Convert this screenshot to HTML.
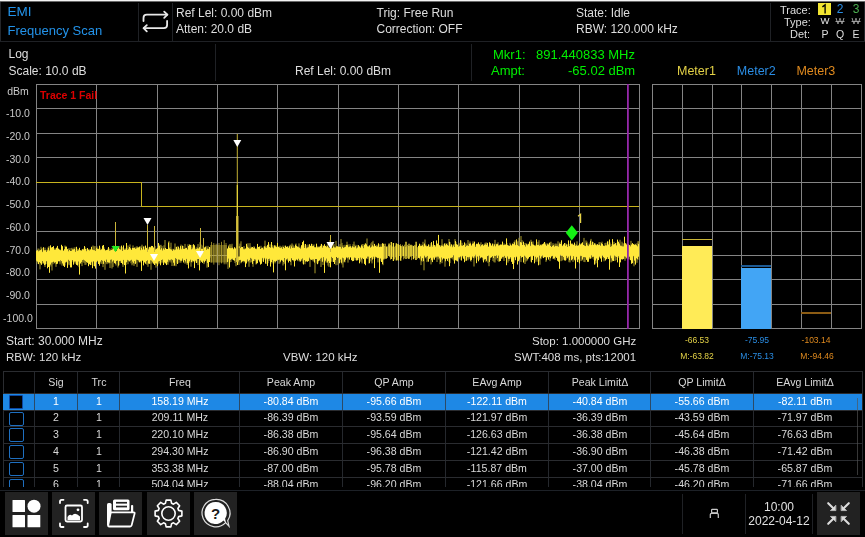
<!DOCTYPE html>
<html><head><meta charset="utf-8"><title>EMI Frequency Scan</title><style>
*{margin:0;padding:0;box-sizing:border-box}
html,body{width:865px;height:537px;background:#000;overflow:hidden}
body{position:relative;font-family:"Liberation Sans",sans-serif;color:#dcdcdc}
.t{position:absolute;white-space:nowrap;line-height:1;will-change:transform}
.r{position:absolute}
</style></head>
<body>
<div class="r" style="left:0px;top:0px;width:865px;height:1px;background:#f4f4f4;"></div>
<div class="r" style="left:0px;top:1px;width:865px;height:1px;background:#6a6a6a;"></div>
<div class="r" style="left:0px;top:2px;width:1px;height:40px;background:#24262a;"></div>
<div class="r" style="left:864px;top:2px;width:1px;height:40px;background:#24262a;"></div>
<div class="r" style="left:0px;top:41px;width:865px;height:1px;background:#1f2125;"></div>
<div class="r" style="left:138px;top:3px;width:1px;height:38px;background:#1f2125;"></div>
<div class="r" style="left:172px;top:3px;width:1px;height:38px;background:#1f2125;"></div>
<div class="r" style="left:770px;top:3px;width:1px;height:38px;background:#1f2125;"></div>
<div class="r" style="left:215px;top:44px;width:1px;height:37px;background:#1f2125;"></div>
<div class="r" style="left:471px;top:44px;width:1px;height:37px;background:#1f2125;"></div>
<div class="t" style="left:0;padding-left:7.5px;top:5px;font-size:13.5px;color:#2393ea;">EMI</div>
<div class="t" style="left:0;padding-left:7.5px;top:24px;font-size:13px;color:#2393ea;">Frequency Scan</div>
<div class="t" style="left:0;padding-left:176px;top:7px;font-size:12px;color:#dedede;">Ref Lel: 0.00 dBm</div>
<div class="t" style="left:0;padding-left:176px;top:23px;font-size:12px;color:#dedede;">Atten: 20.0 dB</div>
<div class="t" style="left:0;padding-left:376.5px;top:7px;font-size:12px;color:#dedede;">Trig: Free Run</div>
<div class="t" style="left:0;padding-left:376.5px;top:23px;font-size:12px;color:#dedede;">Correction: OFF</div>
<div class="t" style="left:0;padding-left:576px;top:7px;font-size:12px;color:#dedede;">State: Idle</div>
<div class="t" style="left:0;padding-left:576px;top:23px;font-size:12px;color:#dedede;">RBW: 120.000 kHz</div>
<div class="t" style="right:0;padding-right:54.5px;top:5px;font-size:11px;color:#dedede;">Trace:</div>
<div class="t" style="right:0;padding-right:54.5px;top:17px;font-size:11px;color:#dedede;">Type:</div>
<div class="t" style="right:0;padding-right:54.5px;top:29px;font-size:11px;color:#dedede;">Det:</div>
<div class="r" style="left:818px;top:3px;width:13px;height:12px;background:#f2e531;"></div>
<svg class="r" style="left:0;top:0" width="865" height="20" viewBox="0 0 865 20"><path d="M822.4 6.9L825.1 4.9V13.4" fill="none" stroke="#000" stroke-width="1.35"/></svg>
<div class="t" style="left:740px;width:200px;text-align:center;top:3px;font-size:12px;color:#2a8de4;">2</div>
<div class="t" style="left:755.5px;width:200px;text-align:center;top:3px;font-size:12px;color:#4caf50;">3</div>
<div class="t" style="left:724.6px;width:200px;text-align:center;top:16px;font-size:9.5px;color:#e8e8e8;">W</div>
<div class="t" style="left:740px;width:200px;text-align:center;top:16px;font-size:9.5px;color:#a0a0a0;text-decoration:line-through">W</div>
<div class="t" style="left:755.6px;width:200px;text-align:center;top:16px;font-size:9.5px;color:#a0a0a0;text-decoration:line-through">W</div>
<div class="t" style="left:724.8px;width:200px;text-align:center;top:28.5px;font-size:10.5px;color:#dedede;">P</div>
<div class="t" style="left:740px;width:200px;text-align:center;top:28.5px;font-size:10.5px;color:#dedede;">Q</div>
<div class="t" style="left:755.5px;width:200px;text-align:center;top:28.5px;font-size:10.5px;color:#dedede;">E</div>
<svg class="r" style="left:0;top:0" width="180" height="40" viewBox="0 0 180 40">
<g fill="none" stroke="#e8e8e8" stroke-width="1.8" stroke-linecap="round" stroke-linejoin="round">
<path d="M143.5 21V18Q143.5 14.7 146.8 14.7H167.3"/><path d="M164.2 11.6L167.4 14.7L164.2 17.8"/>
<path d="M167.1 21V25Q167.1 28.2 163.8 28.2H143.7"/><path d="M146.8 25.1L143.6 28.2L146.8 31.3"/>
</g></svg>
<div class="t" style="left:0;padding-left:8.5px;top:48px;font-size:12px;color:#dedede;">Log</div>
<div class="t" style="left:0;padding-left:8.5px;top:64.5px;font-size:12px;color:#dedede;">Scale: 10.0 dB</div>
<div class="t" style="left:0;padding-left:295px;top:65px;font-size:12px;color:#dedede;">Ref Lel: 0.00 dBm</div>
<div class="t" style="left:0;padding-left:493px;top:48px;font-size:13px;color:#00f000;">Mkr1:</div>
<div class="t" style="right:0;padding-right:230px;top:48px;font-size:13px;color:#00f000;">891.440833 MHz</div>
<div class="t" style="left:0;padding-left:491px;top:64px;font-size:13px;color:#00f000;">Ampt:</div>
<div class="t" style="right:0;padding-right:230px;top:64px;font-size:13px;color:#00f000;">-65.02 dBm</div>
<div class="t" style="left:0;padding-left:677px;top:65px;font-size:12.5px;color:#e3d146;">Meter1</div>
<div class="t" style="left:0;padding-left:736.8px;top:65px;font-size:12.5px;color:#2a8de4;">Meter2</div>
<div class="t" style="left:0;padding-left:796.4px;top:65px;font-size:12.5px;color:#e08a1e;">Meter3</div>
<svg class="r" style="left:0;top:0" width="865" height="537" viewBox="0 0 865 537" shape-rendering="crispEdges">
<rect x="36" y="84" width="1" height="245" fill="#848484"/>
<rect x="96" y="84" width="1" height="245" fill="#848484"/>
<rect x="157" y="84" width="1" height="245" fill="#848484"/>
<rect x="217" y="84" width="1" height="245" fill="#848484"/>
<rect x="277" y="84" width="1" height="245" fill="#848484"/>
<rect x="338" y="84" width="1" height="245" fill="#848484"/>
<rect x="398" y="84" width="1" height="245" fill="#848484"/>
<rect x="458" y="84" width="1" height="245" fill="#848484"/>
<rect x="519" y="84" width="1" height="245" fill="#848484"/>
<rect x="579" y="84" width="1" height="245" fill="#848484"/>
<rect x="639" y="84" width="1" height="245" fill="#848484"/>
<rect x="36" y="84" width="604" height="1" fill="#848484"/>
<rect x="36" y="108" width="604" height="1" fill="#848484"/>
<rect x="36" y="133" width="604" height="1" fill="#848484"/>
<rect x="36" y="157" width="604" height="1" fill="#848484"/>
<rect x="36" y="182" width="604" height="1" fill="#848484"/>
<rect x="36" y="206" width="604" height="1" fill="#848484"/>
<rect x="36" y="231" width="604" height="1" fill="#848484"/>
<rect x="36" y="255" width="604" height="1" fill="#848484"/>
<rect x="36" y="279" width="604" height="1" fill="#848484"/>
<rect x="36" y="304" width="604" height="1" fill="#848484"/>
<rect x="36" y="328" width="604" height="1" fill="#848484"/>
<rect x="652" y="84" width="1" height="245" fill="#848484"/>
<rect x="682" y="84" width="1" height="245" fill="#848484"/>
<rect x="712" y="84" width="1" height="245" fill="#848484"/>
<rect x="741" y="84" width="1" height="245" fill="#848484"/>
<rect x="771" y="84" width="1" height="245" fill="#848484"/>
<rect x="801" y="84" width="1" height="245" fill="#848484"/>
<rect x="831" y="84" width="1" height="245" fill="#848484"/>
<rect x="861" y="84" width="1" height="245" fill="#848484"/>
<rect x="652" y="84" width="210" height="1" fill="#848484"/>
<rect x="652" y="108" width="210" height="1" fill="#848484"/>
<rect x="652" y="133" width="210" height="1" fill="#848484"/>
<rect x="652" y="157" width="210" height="1" fill="#848484"/>
<rect x="652" y="182" width="210" height="1" fill="#848484"/>
<rect x="652" y="206" width="210" height="1" fill="#848484"/>
<rect x="652" y="231" width="210" height="1" fill="#848484"/>
<rect x="652" y="255" width="210" height="1" fill="#848484"/>
<rect x="652" y="279" width="210" height="1" fill="#848484"/>
<rect x="652" y="304" width="210" height="1" fill="#848484"/>
<rect x="652" y="328" width="210" height="1" fill="#848484"/>
</svg>
<div class="t" style="left:-82px;width:200px;text-align:center;top:85.5px;font-size:10.5px;color:#c8c8c8;">dBm</div>
<div class="t" style="left:-82px;width:200px;text-align:center;top:108px;font-size:10.5px;color:#c8c8c8;">-10.0</div>
<div class="t" style="left:-82px;width:200px;text-align:center;top:131px;font-size:10.5px;color:#c8c8c8;">-20.0</div>
<div class="t" style="left:-82px;width:200px;text-align:center;top:154px;font-size:10.5px;color:#c8c8c8;">-30.0</div>
<div class="t" style="left:-82px;width:200px;text-align:center;top:176px;font-size:10.5px;color:#c8c8c8;">-40.0</div>
<div class="t" style="left:-82px;width:200px;text-align:center;top:199px;font-size:10.5px;color:#c8c8c8;">-50.0</div>
<div class="t" style="left:-82px;width:200px;text-align:center;top:222px;font-size:10.5px;color:#c8c8c8;">-60.0</div>
<div class="t" style="left:-82px;width:200px;text-align:center;top:245px;font-size:10.5px;color:#c8c8c8;">-70.0</div>
<div class="t" style="left:-82px;width:200px;text-align:center;top:267px;font-size:10.5px;color:#c8c8c8;">-80.0</div>
<div class="t" style="left:-82px;width:200px;text-align:center;top:290px;font-size:10.5px;color:#c8c8c8;">-90.0</div>
<div class="t" style="left:-82px;width:200px;text-align:center;top:313px;font-size:10.5px;color:#c8c8c8;">-100.0</div>
<div class="t" style="left:0;padding-left:40px;top:90px;font-size:10.5px;color:#dd0000;font-weight:bold">Trace 1 Fail</div>
<svg class="r" style="left:0;top:0" width="865" height="537" viewBox="0 0 865 537">
<path d="M37 251.5V263.7M38 248.5V260.9M39 248.7V262.3M40 250.3V269.4M41 246.8V262.9M42 248.0V262.7M43 250.9V263.8M44 250.6V264.0M45 247.7V267.0M46 250.4V261.8M47 249.6V264.0M48 247.5V261.9M49 246.1V262.3M50 249.6V262.1M51 247.7V266.5M52 250.5V270.5M53 251.8V264.2M54 248.3V261.5M55 248.6V263.6M56 248.4V266.8M57 247.4V263.8M58 250.7V261.0M59 250.6V262.1M60 249.6V264.3M61 249.9V262.4M62 247.3V265.6M63 250.6V261.3M64 250.3V262.2M65 245.5V265.5M66 250.6V262.3M67 248.9V262.3M68 248.8V263.9M69 248.1V265.2M70 251.2V264.8M71 248.1V265.5M72 247.8V259.5M73 250.9V261.8M74 247.6V262.2M75 247.3V263.5M76 250.0V263.9M77 248.6V263.7M78 249.2V264.4M79 249.2V267.2M80 250.5V262.4M81 250.2V263.7M82 249.7V266.1M83 250.4V262.2M84 248.6V262.9M85 247.2V264.9M86 249.4V264.7M87 248.6V261.9M88 249.6V261.8M89 249.9V261.8M90 248.9V261.2M91 249.3V265.0M92 249.1V263.1M93 245.5V266.0M94 246.3V261.8M95 246.1V262.3M96 249.2V260.6M97 246.4V261.0M98 250.1V262.3M99 248.4V262.1M100 247.6V262.6M101 249.2V263.8M102 248.7V263.9M103 251.5V267.1M104 247.4V261.1M105 250.7V269.8M106 249.8V263.5M107 250.8V264.2M108 248.5V263.3M109 248.5V263.4M110 248.8V268.0M111 249.9V263.3M112 247.9V268.5M113 249.8V267.0M114 248.0V261.5M115 247.3V261.0M116 247.1V265.5M117 251.1V260.9M118 250.6V267.5M119 246.1V265.2M120 249.5V261.7M121 246.6V263.0M122 247.2V260.8M123 247.4V266.9M124 250.7V264.3M125 248.4V261.7M126 248.3V265.0M127 248.0V261.6M128 245.5V264.2M129 247.9V261.4M130 244.5V260.9M131 249.7V263.3M132 248.5V265.3M133 245.4V264.2M134 249.3V265.9M135 248.3V264.1M136 246.8V263.0M137 246.2V266.9M138 250.3V259.1M139 247.6V262.3M140 246.9V262.8M141 246.1V261.7M142 244.7V260.6M143 249.6V260.8M144 246.4V262.5M145 249.6V263.2M146 248.2V264.0M147 247.8V264.9M148 247.4V266.8M149 248.6V264.0M150 246.6V263.8M151 249.3V269.8M152 248.6V263.4M153 247.1V262.7M154 249.8V259.1M155 245.9V264.7M156 248.6V267.6M157 248.3V262.2M158 246.9V264.4M159 244.4V263.3M160 245.0V263.6M161 244.8V263.4M162 246.1V262.1M163 249.3V262.9M164 245.3V261.1M165 240.0V263.5M166 249.2V260.9M167 249.3V264.2M168 249.3V264.7M169 241.2V262.3M170 247.1V261.1M171 242.7V262.5M172 249.9V266.0M173 248.8V260.5M174 248.9V266.1M175 243.5V260.5M176 247.3V266.2M177 247.4V262.8M178 245.9V263.3M179 248.5V260.1M180 247.9V262.7M181 244.6V262.6M182 247.7V260.1M183 246.0V260.8M184 248.5V260.1M185 243.9V263.7M186 248.7V263.1M187 249.7V264.7M188 244.3V264.8M189 246.7V263.0M190 248.3V261.6M191 246.7V266.7M192 244.9V262.5M193 247.0V261.7M194 248.0V260.2M195 247.6V262.4M196 249.8V261.0M197 246.8V262.5M198 244.1V265.1M199 247.9V259.1M200 242.2V263.1M201 244.6V261.3M202 249.5V261.3M203 245.5V261.8M204 248.4V264.1M205 249.0V260.7M206 245.9V261.3M207 247.5V267.7M208 245.9V266.5M209 248.7V261.4M210 247.3V257.7M228 248.8V268.9M229 244.9V261.6M230 244.0V262.3M231 245.5V262.0M232 243.8V259.7M233 248.2V259.9M234 249.8V259.0M235 249.8V262.9M236 247.7V266.2M237 247.6V261.0M238 246.6V262.5M239 250.0V264.9M240 243.6V260.5M241 241.3V263.3M242 248.2V258.9M243 248.2V259.2M244 246.1V262.5M245 248.6V259.1M246 248.0V261.2M247 245.3V260.9M248 243.2V262.1M249 247.3V266.8M250 243.1V262.6M251 246.7V262.3M252 247.6V262.2M253 247.2V266.8M254 246.1V260.6M255 249.6V261.2M256 248.7V264.5M257 247.6V260.9M258 248.7V260.5M259 246.9V258.4M260 249.4V262.5M261 245.8V262.4M262 247.5V261.4M263 248.0V259.2M264 246.5V258.9M265 240.6V259.7M266 245.9V264.0M267 246.5V259.6M268 244.5V263.1M269 248.9V261.0M270 244.4V260.5M271 247.9V258.1M272 244.9V263.5M273 245.5V262.3M274 247.1V260.2M275 245.3V263.4M276 245.5V261.2M277 247.5V261.1M278 248.1V258.7M279 246.4V263.9M280 245.7V263.4M281 246.5V260.5M282 246.9V260.4M283 245.5V265.5M284 248.7V264.1M285 245.7V263.2M286 247.2V259.7M287 247.6V260.4M288 248.6V260.6M289 246.3V260.8M290 244.8V259.3M291 244.7V265.3M292 243.4V257.7M293 244.7V258.7M294 246.1V261.5M295 248.5V259.5M296 243.5V257.7M297 247.7V260.0M298 246.1V261.2M299 243.4V259.3M300 248.2V261.9M301 246.7V260.4M302 247.3V260.9M303 244.3V263.5M304 246.2V259.4M305 244.3V264.2M306 245.2V256.8M307 247.3V262.0M308 244.5V258.9M309 245.8V258.9M310 245.7V266.9M311 246.4V260.1M312 244.0V259.8M313 246.9V261.3M314 244.4V261.5M315 248.2V273.3M316 246.9V259.0M317 245.9V263.4M318 247.0V263.4M319 246.2V259.8M320 246.5V260.9M321 244.5V267.0M322 244.9V261.7M323 246.4V265.0M324 247.0V259.7M325 248.4V257.7M326 245.7V262.4M327 245.5V262.6M328 243.9V265.6M329 248.2V266.9M330 240.2V258.1M331 243.8V261.4M332 247.9V261.9M333 244.6V257.7M334 244.1V257.6M335 246.8V262.2M336 240.9V265.2M337 246.0V257.0M338 246.2V265.1M339 247.8V261.4M340 244.2V262.5M341 239.0V259.1M342 242.9V264.4M343 245.2V267.5M344 247.1V262.3M345 244.8V262.3M346 246.5V257.8M347 241.7V258.5M348 244.3V262.6M349 246.4V258.7M350 244.2V257.0M351 246.7V257.5M352 246.6V258.6M353 244.2V260.3M354 241.6V258.4M355 244.7V260.3M356 246.6V259.8M357 244.9V258.7M358 246.6V260.1M359 247.7V256.6M360 247.2V261.1M361 246.5V261.9M362 244.2V263.4M363 244.0V258.5M364 245.9V258.2M365 243.7V263.0M366 248.1V258.8M367 238.5V259.2M368 247.3V258.7M369 245.7V263.5M370 247.3V257.9M371 243.4V261.4M372 242.0V263.4M373 240.8V257.7M374 246.3V259.0M375 247.1V258.8M376 245.3V257.4M377 244.8V258.1M378 246.1V262.4M379 246.8V258.0M380 244.3V259.0M381 246.4V261.3M382 243.9V257.7M383 243.7V265.2M419 245.4V257.9M420 245.5V259.5M421 244.4V265.1M422 247.2V261.7M423 241.8V258.8M424 244.4V270.3M425 239.5V257.3M426 244.6V258.5M427 245.9V262.1M428 246.6V261.1M429 246.1V258.3M430 244.7V257.6M431 243.0V264.4M432 244.7V260.9M433 245.2V258.9M434 245.0V259.8M435 245.0V258.0M436 246.1V258.0M437 244.9V262.0M438 243.1V258.7M439 245.0V259.7M440 245.1V264.2M441 247.5V260.9M442 239.2V263.2M443 244.3V256.5M444 245.4V259.0M445 243.2V266.7M446 244.7V256.8M447 243.3V259.2M448 245.8V256.8M449 239.0V262.1M450 242.2V263.1M451 244.3V258.4M452 246.0V258.5M453 244.8V259.6M454 244.0V260.7M455 239.1V257.2M456 242.1V258.3M457 245.9V259.9M458 244.5V257.6M459 242.9V259.2M460 244.4V256.9M461 240.5V260.2M462 242.8V256.4M463 244.8V257.4M464 246.1V257.2M465 244.0V260.9M466 243.4V260.9M467 245.7V256.6M468 240.0V260.3M469 243.4V259.1M470 241.5V258.3M471 244.6V261.6M472 245.0V255.6M473 241.3V258.2M474 245.5V266.5M475 245.9V258.3M476 244.7V257.0M477 243.3V255.6M478 244.5V259.7M479 246.3V260.0M480 244.1V258.7M481 242.3V256.8M482 244.9V258.1M483 244.3V260.4M484 246.5V260.5M485 242.8V256.8M486 242.5V261.8M487 242.7V255.4M488 246.7V262.8M489 245.5V266.2M490 245.9V259.8M491 244.8V257.3M492 246.5V257.0M493 243.7V261.0M494 245.2V262.2M495 239.9V262.5M496 244.3V259.5M497 243.5V257.6M498 242.3V261.1M499 244.7V262.0M500 246.4V257.7M501 245.4V258.3M502 244.4V255.0M503 245.2V258.5M504 243.4V261.0M505 244.1V257.7M506 244.0V256.6M507 243.2V257.6M508 245.3V262.6M509 246.1V261.0M510 242.8V258.9M511 244.9V257.3M512 244.9V258.6M513 244.1V261.2M514 241.8V262.9M515 240.3V256.6M516 244.6V257.4M517 242.2V257.2M518 240.9V259.2M519 237.8V257.7M520 244.0V257.7M521 236.0V262.1M522 240.2V257.2M523 245.2V256.1M524 246.8V259.9M525 243.1V264.0M526 243.2V261.5M527 243.8V260.8M528 244.3V259.1M529 243.3V255.2M530 244.7V256.4M531 239.8V261.6M532 242.4V259.4M533 241.4V256.2M534 245.5V256.1M535 245.0V261.9M536 244.6V260.1M537 244.9V261.7M538 241.9V257.6M539 240.2V261.4M540 244.4V264.7M541 244.5V259.2M542 244.5V257.2M543 244.3V257.6M544 242.9V257.2M545 242.7V256.9M546 246.8V261.9M547 243.3V258.1M548 243.4V255.5M549 244.0V257.0M550 242.0V261.1M551 241.7V257.3M552 246.6V255.0M553 243.2V259.1M554 245.6V256.2M555 243.7V259.9M556 243.5V256.2M557 244.3V256.9M558 241.3V260.5M559 244.7V258.8M560 242.2V255.1M561 246.3V261.2M562 246.2V260.7M563 244.9V260.1M564 244.1V258.8M565 243.1V257.9M566 243.6V260.1M567 244.1V258.2M568 245.0V258.7M569 243.9V262.2M570 246.2V262.4M571 245.0V256.4M572 243.0V259.9M573 245.0V261.9M574 244.6V258.2M575 245.6V260.7M576 244.1V257.0M577 241.3V260.2M578 245.0V257.8M579 244.8V262.3M580 244.5V256.7M581 243.6V261.1M582 245.7V260.6M583 245.4V258.1M584 237.9V262.0M585 245.8V262.1M586 240.5V257.8M587 241.6V257.4M588 243.5V256.1M589 245.1V259.1M590 242.4V258.8M591 238.9V257.8M592 243.3V258.5M593 242.0V256.4M594 244.7V259.7M595 243.0V264.3M596 244.5V263.2M597 244.4V255.3M598 245.0V258.3M599 242.3V256.0M600 242.0V258.3M601 245.3V258.4M602 241.7V255.2M603 245.1V257.7M604 245.8V261.3M605 243.0V258.6M606 242.7V257.9M607 246.4V259.1M608 244.9V257.3M609 241.4V258.4M610 242.5V257.4M611 244.1V262.4M612 245.7V261.7M613 244.5V258.4M614 241.8V257.6M615 245.7V261.1M616 244.9V260.0M617 242.8V256.4M618 245.0V258.0M619 245.7V256.3M620 239.8V261.7M621 244.9V257.2M622 241.7V256.7M623 243.1V256.1M624 244.1V259.2M625 245.1V260.8M626 244.5V259.1M627 243.5V255.2M628 245.2V258.1M629 246.4V259.5M630 244.9V256.3M631 240.9V258.7M632 245.5V256.3M633 246.2V257.2M634 244.7V266.3M635 243.7V258.6M636 245.9V256.0M637 243.2V262.8M638 241.2V256.3M639 241.2V259.8" stroke="#a89a2c" stroke-width="1" fill="none"/>
<path d="M36.5 250.6V260.7M37.5 250.2V261.7M38.5 251.3V264.1M39.5 250.6V262.1M40.5 250.1V263.3M41.5 249.3V264.8M42.5 252.1V261.0M43.5 247.2V262.8M44.5 250.3V265.1M45.5 250.2V264.5M46.5 252.0V261.1M47.5 250.4V268.3M48.5 247.7V267.0M49.5 250.6V272.8M50.5 245.3V264.6M51.5 247.5V262.6M52.5 247.0V262.3M53.5 246.1V261.7M54.5 249.8V262.7M55.5 249.7V262.1M56.5 247.8V264.1M57.5 245.9V263.7M58.5 248.6V261.0M59.5 249.6V261.1M60.5 250.3V260.3M61.5 244.8V261.0M62.5 246.2V263.5M63.5 250.8V265.8M64.5 249.2V267.0M65.5 246.7V262.5M66.5 246.6V261.7M67.5 249.2V267.9M68.5 251.3V259.8M69.5 249.9V260.9M70.5 251.0V267.4M71.5 251.0V267.4M72.5 249.4V260.2M73.5 249.4V264.7M74.5 249.0V261.5M75.5 251.8V261.5M76.5 246.8V264.9M77.5 250.9V265.5M78.5 250.3V261.5M79.5 247.8V274.6M80.5 250.3V263.4M81.5 250.8V261.9M82.5 249.2V260.1M83.5 249.5V259.7M84.5 246.1V260.4M85.5 249.0V261.2M86.5 251.2V262.1M87.5 248.0V262.8M88.5 249.6V266.2M89.5 250.5V264.3M90.5 249.7V265.1M91.5 246.8V261.8M92.5 249.7V268.2M93.5 250.1V261.3M94.5 250.2V266.3M95.5 251.0V268.6M96.5 247.8V262.2M97.5 248.8V260.8M98.5 249.1V264.0M99.5 245.7V265.7M100.5 250.1V261.6M101.5 249.5V260.1M102.5 245.7V260.8M103.5 245.0V263.9M104.5 249.1V260.8M105.5 250.5V262.0M106.5 250.1V259.6M107.5 249.8V262.1M108.5 247.0V262.4M109.5 250.8V262.7M110.5 250.4V259.8M111.5 250.0V259.5M112.5 249.4V261.6M113.5 245.8V260.3M114.5 250.6V263.2M115.5 245.4V263.8M116.5 251.0V260.9M117.5 248.8V260.5M118.5 247.3V265.7M119.5 249.1V261.0M120.5 249.6V260.8M121.5 245.6V263.0M122.5 251.0V264.3M123.5 245.4V259.9M124.5 249.7V265.1M125.5 249.6V273.5M126.5 243.0V262.3M127.5 250.0V259.9M128.5 249.2V260.5M129.5 247.0V261.4M130.5 248.3V260.4M131.5 250.0V259.8M132.5 247.9V261.6M133.5 248.1V262.9M134.5 247.6V261.1M135.5 248.9V263.8M136.5 248.4V259.7M137.5 247.5V259.9M138.5 247.4V260.5M139.5 246.6V262.0M140.5 250.2V261.4M141.5 247.8V270.9M142.5 249.6V260.5M143.5 246.5V265.4M144.5 249.6V262.1M145.5 245.6V263.6M146.5 247.9V261.1M147.5 248.6V260.3M148.5 249.5V263.5M149.5 247.1V263.7M150.5 247.3V260.3M151.5 245.9V260.6M152.5 246.0V261.7M153.5 247.6V263.7M154.5 246.9V265.0M155.5 249.5V263.3M156.5 249.0V263.6M157.5 248.0V266.1M158.5 243.0V261.5M159.5 246.0V261.0M160.5 249.6V265.3M161.5 248.2V260.0M162.5 250.5V259.5M163.5 248.4V265.0M164.5 249.7V262.4M165.5 248.0V263.4M166.5 248.9V265.1M167.5 249.0V261.8M168.5 242.5V259.6M169.5 248.4V260.1M170.5 249.2V259.8M171.5 249.5V259.3M172.5 251.0V259.9M173.5 249.5V262.7M174.5 250.2V265.5M175.5 249.6V258.1M176.5 246.8V258.9M177.5 249.3V264.0M178.5 246.9V259.4M179.5 249.7V259.7M180.5 246.1V260.7M181.5 249.2V260.8M182.5 245.7V258.6M183.5 248.9V262.5M184.5 249.0V260.1M185.5 248.2V261.5M186.5 247.8V258.9M187.5 249.5V263.2M188.5 246.0V268.4M189.5 244.5V261.3M190.5 244.9V259.7M191.5 249.3V262.1M192.5 248.5V260.6M193.5 244.2V261.2M194.5 245.3V268.1M195.5 249.3V260.6M196.5 248.8V263.0M197.5 248.3V259.0M198.5 248.6V259.0M199.5 247.2V270.4M200.5 248.4V260.3M201.5 248.8V261.8M202.5 248.8V262.9M203.5 249.3V260.7M204.5 247.4V262.3M205.5 246.9V260.7M206.5 249.8V259.1M207.5 248.8V262.9M208.5 249.2V267.1M209.5 247.0V262.0M227.5 248.5V262.1M228.5 246.4V258.6M229.5 247.9V267.5M230.5 248.2V259.9M231.5 248.2V258.9M232.5 247.7V258.7M233.5 249.2V260.2M234.5 247.2V260.7M235.5 248.5V257.9M236.5 245.4V260.0M237.5 249.6V265.0M238.5 248.9V260.6M239.5 246.5V260.0M240.5 248.1V259.9M241.5 247.0V262.3M242.5 247.0V261.5M243.5 249.2V260.9M244.5 249.3V261.4M245.5 248.8V267.1M246.5 243.8V263.5M247.5 246.8V259.4M248.5 247.9V261.2M249.5 248.7V260.2M250.5 248.5V257.9M251.5 247.5V258.7M252.5 247.0V263.9M253.5 248.1V261.0M254.5 247.3V259.2M255.5 248.7V259.6M256.5 249.2V263.7M257.5 243.9V263.2M258.5 247.0V259.7M259.5 246.5V261.6M260.5 249.0V264.6M261.5 248.2V263.8M262.5 247.8V257.9M263.5 249.4V261.9M264.5 246.3V257.9M265.5 247.4V263.5M266.5 247.9V258.6M267.5 245.1V265.9M268.5 242.1V259.0M269.5 247.1V258.7M270.5 247.7V266.6M271.5 242.0V262.0M272.5 247.4V259.9M273.5 248.3V272.4M274.5 245.4V261.4M275.5 246.4V261.7M276.5 247.1V260.8M277.5 242.9V259.8M278.5 246.9V259.9M279.5 247.6V259.7M280.5 248.1V261.7M281.5 247.5V259.9M282.5 248.9V260.7M283.5 247.0V262.0M284.5 248.1V258.0M285.5 245.7V270.3M286.5 246.8V259.2M287.5 246.4V258.6M288.5 247.8V262.5M289.5 246.3V260.9M290.5 248.6V261.8M291.5 246.4V258.3M292.5 248.0V260.2M293.5 247.7V260.4M294.5 247.8V266.5M295.5 244.7V260.8M296.5 245.9V259.4M297.5 246.8V260.3M298.5 247.2V258.7M299.5 247.7V260.5M300.5 248.7V261.3M301.5 245.2V259.3M302.5 242.1V258.4M303.5 240.7V264.5M304.5 248.0V260.2M305.5 244.0V261.6M306.5 248.3V261.1M307.5 247.6V261.7M308.5 247.2V261.1M309.5 244.2V257.7M310.5 245.9V259.3M311.5 243.8V259.8M312.5 246.1V259.5M313.5 245.7V259.4M314.5 247.2V262.6M315.5 247.4V259.0M316.5 243.7V259.0M317.5 247.4V264.2M318.5 247.3V261.2M319.5 247.2V260.3M320.5 246.1V258.7M321.5 243.9V257.8M322.5 247.7V261.7M323.5 245.7V257.2M324.5 244.2V272.9M325.5 246.0V260.7M326.5 247.1V258.6M327.5 246.1V262.5M328.5 247.4V261.1M329.5 248.1V263.0M330.5 247.6V267.3M331.5 243.6V256.9M332.5 248.1V258.1M333.5 246.5V262.0M334.5 247.5V264.0M335.5 247.6V260.0M336.5 246.3V257.0M337.5 246.5V258.1M338.5 246.9V257.7M339.5 246.7V263.3M340.5 246.9V259.5M341.5 248.6V262.8M342.5 246.8V257.7M343.5 248.0V258.3M344.5 247.3V261.6M345.5 246.8V259.8M346.5 245.0V257.2M347.5 245.2V257.8M348.5 247.2V257.3M349.5 246.7V259.6M350.5 246.3V257.3M351.5 248.0V260.2M352.5 246.3V261.2M353.5 247.2V261.0M354.5 247.3V257.5M355.5 246.1V257.9M356.5 248.4V260.5M357.5 247.6V260.3M358.5 245.1V258.2M359.5 246.4V263.3M360.5 247.9V257.6M361.5 245.3V259.4M362.5 246.4V257.9M363.5 248.2V259.1M364.5 244.9V263.9M365.5 243.4V265.2M366.5 244.4V258.1M367.5 246.3V256.6M368.5 246.6V256.6M369.5 245.4V263.1M370.5 247.6V258.0M371.5 246.7V257.4M372.5 245.3V259.6M373.5 246.5V256.7M374.5 243.9V268.1M375.5 246.0V256.7M376.5 246.7V257.0M377.5 246.5V257.9M378.5 243.3V257.9M379.5 247.1V272.8M380.5 246.8V258.4M381.5 246.9V262.0M382.5 243.2V264.1M418.5 246.0V257.9M419.5 243.7V258.3M420.5 246.1V256.4M421.5 245.9V260.7M422.5 245.2V258.0M423.5 246.5V261.2M424.5 243.5V255.6M425.5 245.6V257.4M426.5 246.4V256.8M427.5 246.2V255.9M428.5 244.4V261.7M429.5 247.0V258.8M430.5 246.6V257.8M431.5 242.1V259.9M432.5 246.7V262.1M433.5 240.9V257.6M434.5 245.2V259.6M435.5 246.6V256.8M436.5 240.4V256.8M437.5 243.8V256.6M438.5 234.9V256.7M439.5 245.4V258.4M440.5 246.6V262.2M441.5 245.5V257.5M442.5 245.8V259.6M443.5 246.5V258.2M444.5 243.5V258.6M445.5 245.3V261.3M446.5 243.9V258.9M447.5 245.1V260.9M448.5 245.7V258.4M449.5 241.8V266.2M450.5 246.4V257.9M451.5 244.5V257.7M452.5 247.2V257.2M453.5 245.5V255.0M454.5 247.0V263.6M455.5 241.1V260.3M456.5 244.2V260.7M457.5 244.8V261.4M458.5 246.7V257.4M459.5 246.2V257.4M460.5 240.2V256.4M461.5 245.5V260.5M462.5 246.0V255.8M463.5 245.1V258.7M464.5 242.4V262.2M465.5 246.9V256.0M466.5 245.7V260.6M467.5 245.4V257.2M468.5 246.0V257.3M469.5 243.8V256.9M470.5 243.4V260.6M471.5 245.8V259.9M472.5 243.7V256.6M473.5 243.3V257.8M474.5 241.6V256.4M475.5 247.0V254.8M476.5 244.0V263.2M477.5 244.1V256.5M478.5 242.4V261.3M479.5 244.4V255.7M480.5 246.4V257.8M481.5 245.2V257.1M482.5 244.4V257.6M483.5 245.7V262.4M484.5 244.7V259.4M485.5 244.3V259.1M486.5 244.8V260.8M487.5 243.1V256.1M488.5 246.8V255.4M489.5 242.3V261.9M490.5 243.3V257.8M491.5 245.7V257.3M492.5 243.6V256.0M493.5 246.3V258.0M494.5 244.3V255.8M495.5 246.3V256.0M496.5 244.3V255.1M497.5 244.1V258.0M498.5 245.6V255.5M499.5 245.3V261.2M500.5 244.5V261.0M501.5 244.7V258.6M502.5 241.6V256.9M503.5 245.2V256.8M504.5 245.0V255.8M505.5 245.0V257.8M506.5 238.4V265.2M507.5 245.1V256.4M508.5 245.6V258.9M509.5 245.9V258.8M510.5 244.5V257.3M511.5 245.8V261.8M512.5 243.6V264.0M513.5 244.2V269.1M514.5 242.4V257.3M515.5 245.2V260.2M516.5 239.4V256.6M517.5 245.1V264.5M518.5 245.8V261.2M519.5 246.3V259.6M520.5 242.1V255.9M521.5 242.5V257.6M522.5 245.0V257.0M523.5 241.7V262.5M524.5 245.1V255.6M525.5 246.6V256.7M526.5 244.3V257.9M527.5 245.3V259.4M528.5 244.1V258.3M529.5 241.6V257.0M530.5 246.1V256.4M531.5 241.8V262.4M532.5 244.3V260.0M533.5 244.7V255.7M534.5 245.6V263.3M535.5 246.1V256.8M536.5 239.4V258.7M537.5 245.1V257.3M538.5 244.8V265.3M539.5 245.8V255.5M540.5 245.1V258.3M541.5 245.3V256.3M542.5 244.3V255.3M543.5 243.6V258.1M544.5 242.0V257.2M545.5 244.4V257.1M546.5 245.7V260.3M547.5 244.3V257.0M548.5 244.7V259.6M549.5 243.0V257.1M550.5 246.0V258.3M551.5 247.0V256.3M552.5 245.8V255.8M553.5 245.2V258.6M554.5 246.7V258.4M555.5 245.9V256.7M556.5 246.1V257.9M557.5 246.2V260.7M558.5 246.7V261.7M559.5 243.5V268.8M560.5 244.0V254.9M561.5 240.3V255.8M562.5 246.1V255.8M563.5 244.5V257.0M564.5 243.0V260.4M565.5 245.8V260.6M566.5 244.6V255.8M567.5 246.9V257.8M568.5 240.4V256.6M569.5 246.2V260.2M570.5 240.5V255.6M571.5 244.1V260.3M572.5 244.2V259.1M573.5 244.8V256.2M574.5 242.6V259.8M575.5 245.8V268.5M576.5 245.3V256.8M577.5 246.0V262.1M578.5 245.6V259.5M579.5 243.4V263.4M580.5 244.5V255.7M581.5 243.4V255.9M582.5 242.3V259.5M583.5 245.0V257.0M584.5 245.6V257.0M585.5 246.1V257.3M586.5 242.9V259.9M587.5 245.4V261.8M588.5 246.1V261.8M589.5 244.4V257.5M590.5 240.7V258.6M591.5 245.1V255.1M592.5 241.7V256.9M593.5 244.9V256.7M594.5 243.4V264.6M595.5 244.6V260.5M596.5 245.3V258.5M597.5 244.2V267.3M598.5 245.1V260.1M599.5 244.7V256.7M600.5 245.8V258.4M601.5 243.2V261.8M602.5 244.1V255.4M603.5 246.0V257.0M604.5 246.1V258.0M605.5 245.3V260.5M606.5 245.4V259.2M607.5 241.3V257.2M608.5 244.5V259.0M609.5 239.5V269.7M610.5 246.9V255.4M611.5 246.3V258.3M612.5 239.1V260.7M613.5 244.5V261.0M614.5 244.1V255.4M615.5 243.1V256.4M616.5 245.5V256.9M617.5 239.6V262.4M618.5 241.7V256.3M619.5 243.5V267.0M620.5 245.8V262.4M621.5 246.1V259.3M622.5 246.4V259.5M623.5 246.4V258.9M624.5 236.7V256.4M625.5 243.2V256.7M626.5 244.6V257.8M627.5 245.5V260.6M628.5 244.1V258.9M629.5 245.1V256.7M630.5 246.4V260.2M631.5 244.5V263.8M632.5 243.1V263.2M633.5 244.1V255.9M634.5 245.0V260.6M635.5 244.4V264.6M636.5 245.2V258.3M637.5 246.3V259.3M638.5 243.9V256.7" stroke="#ffe83a" stroke-width="1" fill="none"/>
<rect x="210" y="245" width="17" height="17.5" fill="#d8c438" opacity="0.42"/>
<path d="M211.5 241.9V262.5M213.8 243.1V264.6M216.2 243.7V262.4M219 243.0V265.2M221.5 241.8V263.4M224.2 240.1V264.3M226 243.0V264.3" stroke="#b8a430" stroke-width="0.8"/>
<path d="M383.5 244.3V257.6M384.5 246.0V258.6M385.5 243.7V258.9M386.5 247.0V258.6M387.5 246.4V258.0M388.5 244.8V255.8M389.5 245.6V257.2M390.5 245.2V259.7M391.5 245.7V258.8M392.5 246.5V256.9M393.5 245.6V258.3M394.5 246.7V259.4M395.5 245.6V257.3M396.5 246.5V259.7M397.5 243.9V260.2M398.5 246.5V255.9M399.5 245.0V255.6M400.5 244.1V258.9M401.5 246.2V257.7M402.5 244.8V256.3M403.5 246.0V259.4M404.5 244.7V258.4M405.5 247.0V256.5M406.5 246.4V255.6M407.5 244.9V258.3M408.5 243.7V258.2M409.5 243.7V257.8M410.5 245.3V256.8M411.5 245.5V260.1M412.5 245.4V255.4M413.5 245.9V256.3M414.5 244.9V257.9M415.5 245.4V260.0M416.5 244.3V255.8M417.5 247.2V258.8" stroke="#8c7f26" stroke-width="1"/>
<path d="M383.8 243.7V259.6M386.3 246.5V258.4M389.1 243.6V255.9M391.3 242.1V258.9M393.4 243.1V261.1M396.3 243.3V260.4M398.4 244.2V260.4M400.7 245.8V260.7M403.4 246.4V255.9M406.0 241.7V259.1M408.9 245.9V258.9M411.0 244.7V256.3M413.5 246.1V259.3M416.1 241.8V259.9" stroke="#f8e23c" stroke-width="1.3"/>
<rect x="238" y="247.5" width="1.5" height="9" fill="#000"/>
<path d="M36 182.5H141.5V206.5H639" stroke="#c8b41e" stroke-width="1" fill="none" shape-rendering="crispEdges"/>
<path d="M115.5 222V252" stroke="#c9b43a" stroke-width="1"/>
<path d="M147.5 225V252" stroke="#c9b43a" stroke-width="1"/>
<path d="M154.5 226V252" stroke="#c9b43a" stroke-width="1"/>
<path d="M200.5 228V252" stroke="#c9b43a" stroke-width="1"/>
<path d="M203.5 238V252" stroke="#c9b43a" stroke-width="1"/>
<path d="M330.5 235V252" stroke="#c9b43a" stroke-width="1"/>
<path d="M237.3 134V185" stroke="#d8c43a" stroke-width="0.9"/>
<path d="M237.3 185V262" stroke="#f0dc3a" stroke-width="1.3"/>
<path d="M236.5 216V262M238 216V262" stroke="#c9b43a" stroke-width="1"/>
<rect x="627" y="84" width="1.8" height="245" fill="#9628aa"/>
<path d="M233.3 140H241.3L237.3 147Z" fill="#fff"/>
<path d="M143.5 218H151.5L147.5 225Z" fill="#fff"/>
<path d="M150.0 254H158.0L154 261Z" fill="#fff"/>
<path d="M196.0 251H204.0L200 258Z" fill="#fff"/>
<path d="M326.5 242H334.5L330.5 249Z" fill="#fff"/>
<path d="M111.5 246H119.5L115.5 252Z" fill="#22ee22"/>
<path d="M571.8 225.3L577.8 232.8L571.8 240.4L565.8 232.8Z" fill="#14f014"/>
</svg>
<svg class="r" style="left:570px;top:210px" width="20" height="16" viewBox="570 210 20 16"><path d="M578 216.2L580.6 214.2V223" fill="none" stroke="#e8d448" stroke-width="1.2"/></svg>
<div class="r" style="left:682px;top:246px;width:30px;height:83px;background:#ffeb57;"></div>
<div class="r" style="left:682px;top:239px;width:30px;height:1px;background:#cbb636;"></div>
<div class="r" style="left:741px;top:268px;width:30px;height:61px;background:#42a5f5;"></div>
<div class="r" style="left:741px;top:265px;width:30px;height:1.5px;background:#1d5a94;"></div>
<div class="r" style="left:801px;top:312px;width:30px;height:2px;background:#8c5c14;"></div>
<div class="t" style="left:0;padding-left:6px;top:335px;font-size:12px;color:#dedede;">Start: 30.000 MHz</div>
<div class="t" style="left:0;padding-left:6px;top:352px;font-size:11.5px;color:#dedede;">RBW: 120 kHz</div>
<div class="t" style="left:0;padding-left:283px;top:352px;font-size:11.5px;color:#dedede;">VBW: 120 kHz</div>
<div class="t" style="right:0;padding-right:229px;top:336px;font-size:11.5px;color:#dedede;">Stop: 1.000000 GHz</div>
<div class="t" style="right:0;padding-right:229px;top:352px;font-size:11.5px;color:#dedede;">SWT:408 ms, pts:12001</div>
<div class="t" style="left:597px;width:200px;text-align:center;top:336px;font-size:8.5px;color:#e3d146;">-66.53</div>
<div class="t" style="left:597px;width:200px;text-align:center;top:352px;font-size:8.5px;color:#e3d146;">M:-63.82</div>
<div class="t" style="left:657px;width:200px;text-align:center;top:336px;font-size:8.5px;color:#2a8de4;">-75.95</div>
<div class="t" style="left:656.5px;width:200px;text-align:center;top:352px;font-size:8.5px;color:#2a8de4;">M:-75.13</div>
<div class="t" style="left:716px;width:200px;text-align:center;top:336px;font-size:8.5px;color:#e08a1e;">-103.14</div>
<div class="t" style="left:716.5px;width:200px;text-align:center;top:352px;font-size:8.5px;color:#e08a1e;">M:-94.46</div>
<div class="r" style="left:3px;top:371px;width:859px;height:1px;background:#2a2c30;"></div>
<div class="r" style="left:3px;top:371px;width:1px;height:116px;background:#2a2c30;"></div>
<div class="r" style="left:862px;top:371px;width:1px;height:116px;background:#2a2c30;"></div>
<div class="r" style="left:3px;top:394px;width:859px;height:16px;background:#1e88e5;"></div>
<div class="r" style="left:34px;top:372px;width:1px;height:115px;background:rgba(50,53,60,0.75);"></div>
<div class="r" style="left:77px;top:372px;width:1px;height:115px;background:rgba(50,53,60,0.75);"></div>
<div class="r" style="left:119px;top:372px;width:1px;height:115px;background:rgba(50,53,60,0.75);"></div>
<div class="r" style="left:239px;top:372px;width:1px;height:115px;background:rgba(50,53,60,0.75);"></div>
<div class="r" style="left:342px;top:372px;width:1px;height:115px;background:rgba(50,53,60,0.75);"></div>
<div class="r" style="left:445px;top:372px;width:1px;height:115px;background:rgba(50,53,60,0.75);"></div>
<div class="r" style="left:548px;top:372px;width:1px;height:115px;background:rgba(50,53,60,0.75);"></div>
<div class="r" style="left:650px;top:372px;width:1px;height:115px;background:rgba(50,53,60,0.75);"></div>
<div class="r" style="left:753px;top:372px;width:1px;height:115px;background:rgba(50,53,60,0.75);"></div>
<div class="t" style="left:-44.05px;width:200px;text-align:center;top:377px;font-size:10.6px;color:#d8d8d8;">Sig</div>
<div class="t" style="left:-1.4500000000000028px;width:200px;text-align:center;top:377px;font-size:10.6px;color:#d8d8d8;">Trc</div>
<div class="t" style="left:79.69999999999999px;width:200px;text-align:center;top:377px;font-size:10.6px;color:#d8d8d8;">Freq</div>
<div class="t" style="left:191.10000000000002px;width:200px;text-align:center;top:377px;font-size:10.6px;color:#d8d8d8;">Peak Amp</div>
<div class="t" style="left:294.1px;width:200px;text-align:center;top:377px;font-size:10.6px;color:#d8d8d8;">QP Amp</div>
<div class="t" style="left:397.1px;width:200px;text-align:center;top:377px;font-size:10.6px;color:#d8d8d8;">EAvg Amp</div>
<div class="t" style="left:499.6500000000001px;width:200px;text-align:center;top:377px;font-size:10.6px;color:#d8d8d8;">Peak Limit&Delta;</div>
<div class="t" style="left:602.0px;width:200px;text-align:center;top:377px;font-size:10.6px;color:#d8d8d8;">QP Limit&Delta;</div>
<div class="t" style="left:704.65px;width:200px;text-align:center;top:377px;font-size:10.6px;color:#d8d8d8;">EAvg Limit&Delta;</div>
<div class="r" style="left:3px;top:393px;width:859px;height:1px;background:#2a2c30;"></div>
<div class="t" style="left:-44.05px;width:200px;text-align:center;top:396px;font-size:10.6px;color:#fff;">1</div>
<div class="t" style="left:-1.4500000000000028px;width:200px;text-align:center;top:396px;font-size:10.6px;color:#fff;">1</div>
<div class="t" style="left:79.69999999999999px;width:200px;text-align:center;top:396px;font-size:10.6px;color:#fff;">158.19 MHz</div>
<div class="t" style="left:191.10000000000002px;width:200px;text-align:center;top:396px;font-size:10.6px;color:#fff;">-80.84 dBm</div>
<div class="t" style="left:294.1px;width:200px;text-align:center;top:396px;font-size:10.6px;color:#fff;">-95.66 dBm</div>
<div class="t" style="left:397.1px;width:200px;text-align:center;top:396px;font-size:10.6px;color:#fff;">-122.11 dBm</div>
<div class="t" style="left:499.6500000000001px;width:200px;text-align:center;top:396px;font-size:10.6px;color:#fff;">-40.84 dBm</div>
<div class="t" style="left:602.0px;width:200px;text-align:center;top:396px;font-size:10.6px;color:#fff;">-55.66 dBm</div>
<div class="t" style="left:704.65px;width:200px;text-align:center;top:396px;font-size:10.6px;color:#fff;">-82.11 dBm</div>
<div class="r" style="left:9px;top:395px;width:14px;height:14px;background:#000;border:1px solid #0d47a1;border-radius:1px"></div>
<div class="r" style="left:4px;top:410px;width:858px;height:1px;background:#2a2c30;"></div>
<div class="t" style="left:-44.05px;width:200px;text-align:center;top:412px;font-size:10.6px;color:#d8d8d8;">2</div>
<div class="t" style="left:-1.4500000000000028px;width:200px;text-align:center;top:412px;font-size:10.6px;color:#d8d8d8;">1</div>
<div class="t" style="left:79.69999999999999px;width:200px;text-align:center;top:412px;font-size:10.6px;color:#d8d8d8;">209.11 MHz</div>
<div class="t" style="left:191.10000000000002px;width:200px;text-align:center;top:412px;font-size:10.6px;color:#d8d8d8;">-86.39 dBm</div>
<div class="t" style="left:294.1px;width:200px;text-align:center;top:412px;font-size:10.6px;color:#d8d8d8;">-93.59 dBm</div>
<div class="t" style="left:397.1px;width:200px;text-align:center;top:412px;font-size:10.6px;color:#d8d8d8;">-121.97 dBm</div>
<div class="t" style="left:499.6500000000001px;width:200px;text-align:center;top:412px;font-size:10.6px;color:#d8d8d8;">-36.39 dBm</div>
<div class="t" style="left:602.0px;width:200px;text-align:center;top:412px;font-size:10.6px;color:#d8d8d8;">-43.59 dBm</div>
<div class="t" style="left:704.65px;width:200px;text-align:center;top:412px;font-size:10.6px;color:#d8d8d8;">-71.97 dBm</div>
<div class="r" style="left:9px;top:411.5px;width:15px;height:14.5px;background:transparent;border:1.5px solid #1e6fc0;border-radius:2px"></div>
<div class="r" style="left:4px;top:426px;width:858px;height:1px;background:#2a2c30;"></div>
<div class="t" style="left:-44.05px;width:200px;text-align:center;top:429px;font-size:10.6px;color:#d8d8d8;">3</div>
<div class="t" style="left:-1.4500000000000028px;width:200px;text-align:center;top:429px;font-size:10.6px;color:#d8d8d8;">1</div>
<div class="t" style="left:79.69999999999999px;width:200px;text-align:center;top:429px;font-size:10.6px;color:#d8d8d8;">220.10 MHz</div>
<div class="t" style="left:191.10000000000002px;width:200px;text-align:center;top:429px;font-size:10.6px;color:#d8d8d8;">-86.38 dBm</div>
<div class="t" style="left:294.1px;width:200px;text-align:center;top:429px;font-size:10.6px;color:#d8d8d8;">-95.64 dBm</div>
<div class="t" style="left:397.1px;width:200px;text-align:center;top:429px;font-size:10.6px;color:#d8d8d8;">-126.63 dBm</div>
<div class="t" style="left:499.6500000000001px;width:200px;text-align:center;top:429px;font-size:10.6px;color:#d8d8d8;">-36.38 dBm</div>
<div class="t" style="left:602.0px;width:200px;text-align:center;top:429px;font-size:10.6px;color:#d8d8d8;">-45.64 dBm</div>
<div class="t" style="left:704.65px;width:200px;text-align:center;top:429px;font-size:10.6px;color:#d8d8d8;">-76.63 dBm</div>
<div class="r" style="left:9px;top:427.5px;width:15px;height:14.5px;background:transparent;border:1.5px solid #1e6fc0;border-radius:2px"></div>
<div class="r" style="left:4px;top:443px;width:858px;height:1px;background:#2a2c30;"></div>
<div class="t" style="left:-44.05px;width:200px;text-align:center;top:446px;font-size:10.6px;color:#d8d8d8;">4</div>
<div class="t" style="left:-1.4500000000000028px;width:200px;text-align:center;top:446px;font-size:10.6px;color:#d8d8d8;">1</div>
<div class="t" style="left:79.69999999999999px;width:200px;text-align:center;top:446px;font-size:10.6px;color:#d8d8d8;">294.30 MHz</div>
<div class="t" style="left:191.10000000000002px;width:200px;text-align:center;top:446px;font-size:10.6px;color:#d8d8d8;">-86.90 dBm</div>
<div class="t" style="left:294.1px;width:200px;text-align:center;top:446px;font-size:10.6px;color:#d8d8d8;">-96.38 dBm</div>
<div class="t" style="left:397.1px;width:200px;text-align:center;top:446px;font-size:10.6px;color:#d8d8d8;">-121.42 dBm</div>
<div class="t" style="left:499.6500000000001px;width:200px;text-align:center;top:446px;font-size:10.6px;color:#d8d8d8;">-36.90 dBm</div>
<div class="t" style="left:602.0px;width:200px;text-align:center;top:446px;font-size:10.6px;color:#d8d8d8;">-46.38 dBm</div>
<div class="t" style="left:704.65px;width:200px;text-align:center;top:446px;font-size:10.6px;color:#d8d8d8;">-71.42 dBm</div>
<div class="r" style="left:9px;top:444.5px;width:15px;height:14.5px;background:transparent;border:1.5px solid #1e6fc0;border-radius:2px"></div>
<div class="r" style="left:4px;top:460px;width:858px;height:1px;background:#2a2c30;"></div>
<div class="t" style="left:-44.05px;width:200px;text-align:center;top:463px;font-size:10.6px;color:#d8d8d8;">5</div>
<div class="t" style="left:-1.4500000000000028px;width:200px;text-align:center;top:463px;font-size:10.6px;color:#d8d8d8;">1</div>
<div class="t" style="left:79.69999999999999px;width:200px;text-align:center;top:463px;font-size:10.6px;color:#d8d8d8;">353.38 MHz</div>
<div class="t" style="left:191.10000000000002px;width:200px;text-align:center;top:463px;font-size:10.6px;color:#d8d8d8;">-87.00 dBm</div>
<div class="t" style="left:294.1px;width:200px;text-align:center;top:463px;font-size:10.6px;color:#d8d8d8;">-95.78 dBm</div>
<div class="t" style="left:397.1px;width:200px;text-align:center;top:463px;font-size:10.6px;color:#d8d8d8;">-115.87 dBm</div>
<div class="t" style="left:499.6500000000001px;width:200px;text-align:center;top:463px;font-size:10.6px;color:#d8d8d8;">-37.00 dBm</div>
<div class="t" style="left:602.0px;width:200px;text-align:center;top:463px;font-size:10.6px;color:#d8d8d8;">-45.78 dBm</div>
<div class="t" style="left:704.65px;width:200px;text-align:center;top:463px;font-size:10.6px;color:#d8d8d8;">-65.87 dBm</div>
<div class="r" style="left:9px;top:461.5px;width:15px;height:14.5px;background:transparent;border:1.5px solid #1e6fc0;border-radius:2px"></div>
<div class="r" style="left:4px;top:477px;width:858px;height:1px;background:#2a2c30;"></div>
<div class="t" style="left:-44.05px;width:200px;text-align:center;top:479px;font-size:10.6px;color:#d8d8d8;">6</div>
<div class="t" style="left:-1.4500000000000028px;width:200px;text-align:center;top:479px;font-size:10.6px;color:#d8d8d8;">1</div>
<div class="t" style="left:79.69999999999999px;width:200px;text-align:center;top:479px;font-size:10.6px;color:#d8d8d8;">504.04 MHz</div>
<div class="t" style="left:191.10000000000002px;width:200px;text-align:center;top:479px;font-size:10.6px;color:#d8d8d8;">-88.04 dBm</div>
<div class="t" style="left:294.1px;width:200px;text-align:center;top:479px;font-size:10.6px;color:#d8d8d8;">-96.20 dBm</div>
<div class="t" style="left:397.1px;width:200px;text-align:center;top:479px;font-size:10.6px;color:#d8d8d8;">-121.66 dBm</div>
<div class="t" style="left:499.6500000000001px;width:200px;text-align:center;top:479px;font-size:10.6px;color:#d8d8d8;">-38.04 dBm</div>
<div class="t" style="left:602.0px;width:200px;text-align:center;top:479px;font-size:10.6px;color:#d8d8d8;">-46.20 dBm</div>
<div class="t" style="left:704.65px;width:200px;text-align:center;top:479px;font-size:10.6px;color:#d8d8d8;">-71.66 dBm</div>
<div class="r" style="left:9px;top:478.5px;width:15px;height:14.5px;background:transparent;border:1.5px solid #1e6fc0;border-radius:2px"></div>
<div class="r" style="left:0px;top:487px;width:865px;height:50px;background:#000;"></div>
<div class="r" style="left:0px;top:490px;width:865px;height:1px;background:#1d2127;"></div>
<div class="r" style="left:856.5px;top:398px;width:1.5px;height:77px;background:rgba(85,85,85,0.65);"></div>
<div class="r" style="left:5px;top:492px;width:43px;height:43px;background:#222;"></div>
<div class="r" style="left:52px;top:492px;width:43px;height:43px;background:#222;"></div>
<div class="r" style="left:99px;top:492px;width:43px;height:43px;background:#222;"></div>
<div class="r" style="left:147px;top:492px;width:43px;height:43px;background:#222;"></div>
<div class="r" style="left:194px;top:492px;width:43px;height:43px;background:#222;"></div>
<div class="r" style="left:817px;top:492px;width:43px;height:43px;background:#222;"></div>
<div class="r" style="left:682px;top:494px;width:1px;height:40px;background:#1f2125;"></div>
<div class="r" style="left:745px;top:494px;width:1px;height:40px;background:#1f2125;"></div>
<div class="r" style="left:812px;top:494px;width:1px;height:40px;background:#1f2125;"></div>
<div class="t" style="left:679px;width:200px;text-align:center;top:500.5px;font-size:12px;color:#e0e0e0;">10:00</div>
<div class="t" style="left:679px;width:200px;text-align:center;top:514.5px;font-size:12px;color:#e0e0e0;">2022-04-12</div>
<svg class="r" style="left:0;top:488px" width="250" height="49" viewBox="0 488 250 49">
<g fill="#fff">
<rect x="12.5" y="500" width="12.5" height="12" rx="0.5"/>
<circle cx="34" cy="506.2" r="6.5"/>
<rect x="12.5" y="515" width="12.5" height="12.3" rx="0.5"/>
<rect x="27.5" y="515" width="12.8" height="12.3" rx="0.5"/>
</g>
<g fill="none" stroke="#fff" stroke-width="1.8" stroke-linecap="round">
<path d="M60 503V501.5Q60 499.8 61.7 499.8H63.5"/>
<path d="M84 499.8H86Q87.7 499.8 87.7 501.5V503"/>
<path d="M60 523.5V525.2Q60 527 61.7 527H63.5"/>
<path d="M84 527H86Q87.7 527 87.7 525.2V523.5"/>
<rect x="65.5" y="505.5" width="16.5" height="16" rx="1.5"/>
</g>
<path d="M67.5 520V517Q69.5 513.5 72 515.5Q75 511.5 80 516.5V520Z" fill="#fff"/>
<circle cx="78" cy="509.8" r="1.4" fill="#fff"/>
<g fill="#fff">
<rect x="113" y="499.5" width="16.5" height="10.8" rx="1.5"/>
<rect x="107" y="503" width="4.6" height="23" rx="1.6"/>
<rect x="131" y="505" width="2.2" height="7.5" rx="0.8"/>
</g>
<g fill="#222">
<rect x="116" y="501.9" width="11" height="1.7"/>
<rect x="116" y="505.7" width="11" height="1.7"/>
</g>
<path d="M111.8 512.3H133.6Q134.9 512.3 134.6 513.6L131.6 525.4Q131.3 526.5 130.1 526.5H109.2Q107.9 526.5 108.2 525.3L110.6 513.4Q110.8 512.3 111.8 512.3Z" fill="#222" stroke="#fff" stroke-width="1.8" stroke-linejoin="round"/>
<g transform="translate(168.5,513.5)" fill="none" stroke="#fff" stroke-width="1.6" stroke-linejoin="round">
<path d="M-3.10 -10.14L-2.36 -13.39L2.36 -13.39L3.10 -10.14L4.98 -9.36L7.80 -11.14L11.14 -7.80L9.36 -4.98L10.14 -3.10L13.39 -2.36L13.39 2.36L10.14 3.10L9.36 4.98L11.14 7.80L7.80 11.14L4.98 9.36L3.10 10.14L2.36 13.39L-2.36 13.39L-3.10 10.14L-4.98 9.36L-7.80 11.14L-11.14 7.80L-9.36 4.98L-10.14 3.10L-13.39 2.36L-13.39 -2.36L-10.14 -3.10L-9.36 -4.98L-11.14 -7.80L-7.80 -11.14L-4.98 -9.36Z"/>
<circle r="6.7"/>
</g>
<g>
<path d="M215.4 499.4A13.7 13.7 0 1 0 225.6 522.6L229 526.2L227.7 520.6A13.7 13.7 0 0 0 215.4 499.4Z" fill="none" stroke="#ddd" stroke-width="1.2"/>
<path d="M215.4 502A11 11 0 1 0 223.5 520.6L226.2 523.4L225.1 518.8A11 11 0 0 0 215.4 502Z" fill="#fff"/>
<text x="215.5" y="518.8" font-family="Liberation Sans" font-weight="bold" font-size="15" text-anchor="middle" fill="#1a1a1a">?</text>
</g>
</svg>
<svg class="r" style="left:700px;top:500px" width="30" height="30" viewBox="700 500 30 30">
<g fill="none" stroke="#c8c8c8" stroke-width="1.2">
<rect x="711.6" y="509.3" width="5.8" height="3.6" rx="0.6"/>
<path d="M710.3 518V514.6Q710.3 513.3 711.6 513.3H717Q718.3 513.3 718.3 514.6V518"/>
</g>
</svg>
<svg class="r" style="left:817px;top:492px" width="43" height="43" viewBox="0 0 43 43">
<g fill="#dcdcdc" stroke="#dcdcdc" stroke-width="2.1" stroke-linecap="round">
<path d="M11.2 11.2L15.8 15.8" fill="none"/><path d="M18.6 18.6H13.4L18.6 13.4Z" stroke-width="0.6" stroke-linejoin="round"/>
<path d="M31.8 11.2L27.2 15.8" fill="none"/><path d="M24.4 18.6H29.6L24.4 13.4Z" stroke-width="0.6" stroke-linejoin="round"/>
<path d="M11.2 31.8L15.8 27.2" fill="none"/><path d="M18.6 24.4H13.4L18.6 29.6Z" stroke-width="0.6" stroke-linejoin="round"/>
<path d="M31.8 31.8L27.2 27.2" fill="none"/><path d="M24.4 24.4H29.6L24.4 29.6Z" stroke-width="0.6" stroke-linejoin="round"/>
</g></svg>

</body></html>
